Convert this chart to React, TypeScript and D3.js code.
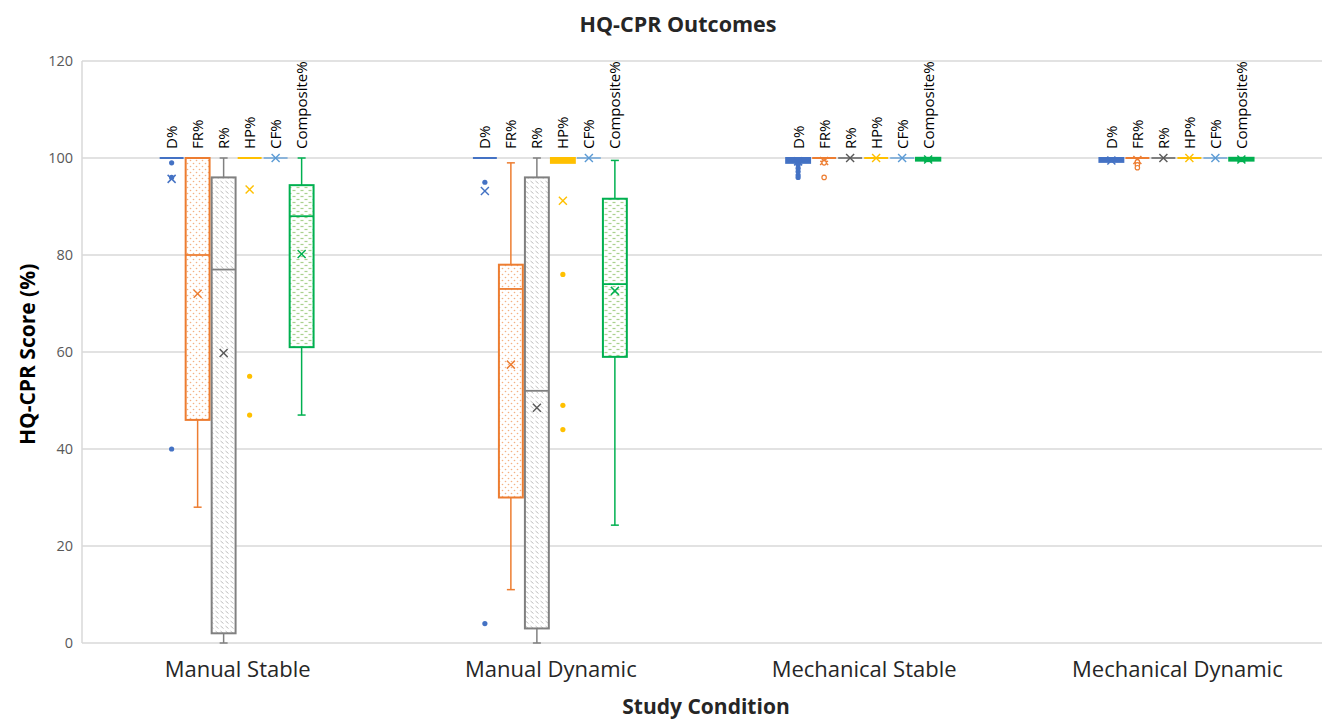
import React from 'react'
import * as d3 from 'd3'

const conditions = ['Manual Stable', 'Manual Dynamic', 'Mechanical Stable', 'Mechanical Dynamic']
const seriesNames = ['D%', 'FR%', 'R%', 'HP%', 'CF%', 'Composite%']
const seriesColors = ['#4472C4', '#ED7D31', '#808080', '#FFC000', '#5B9BD5', '#00B050']
const yTicks = [0, 20, 40, 60, 80, 100, 120]

// [lower whisker, q1, median, q3, upper whisker] per condition
const dBox = [[100, 100, 100, 100, 100], [100, 100, 100, 100, 100], [99, 99, 99.6, 100, 100], [99.2, 99.2, 99.7, 100, 100]]
const dMean = [95.7, 93.2, 99.3, 99.5]
const dOut = [[99, 96, 40], [95, 4], [98.6, 97.9, 97.2, 96.5, 96], []]

const frBox = [[28, 46, 80, 100, 100], [11, 30, 73, 78, 99], [99.3, 100, 100, 100, 100], [100, 100, 100, 100, 100]]
const frMean = [72, 57.4, 99.4, 99.6]
const frOut = [[], [], [99, 96], [99.2, 98.6, 98]]

const rBox = [[0, 2, 77, 96, 100], [0, 3, 52, 96, 100], [100, 100, 100, 100, 100], [100, 100, 100, 100, 100]]
const rMean = [59.8, 48.5, 100, 100]
const rOut = [[], [], [], []]

const hpBox = [[100, 100, 100, 100, 100], [99, 99, 100, 100, 100], [100, 100, 100, 100, 100], [100, 100, 100, 100, 100]]
const hpMean = [93.5, 91.2, 100, 100]
const hpOut = [[55, 47], [76, 49, 44], [], []]

const cfBox = [[100, 100, 100, 100, 100], [100, 100, 100, 100, 100], [100, 100, 100, 100, 100], [100, 100, 100, 100, 100]]
const cfMean = [100, 100, 100, 100]
const cfOut = [[], [], [], []]

const compBox = [[47, 61, 88, 94.4, 100], [24.3, 59, 74, 91.6, 99.5], [99.3, 99.5, 100, 100, 100], [99.3, 99.5, 100, 100, 100]]
const compMean = [80.2, 72.6, 99.7, 99.7]
const compOut = [[], [], [], []]

const boxes = [dBox, frBox, rBox, hpBox, cfBox, compBox]
const means = [dMean, frMean, rMean, hpMean, cfMean, compMean]
const outliers = [dOut, frOut, rOut, hpOut, cfOut, compOut]
const fills = ['#4472C4', 'url(#dots)', 'url(#hatch)', '#FFC000', '#5B9BD5', 'url(#dashes)']

const W = 1322
const H = 721
const font = '"Open Sans", Lato, sans-serif'

export default function App() {
  const y = d3.scaleLinear().domain([0, 120]).range([643, 61])
  const x = d3.scaleBand().domain(conditions).range([80, 1333])
  const inner = d3.scaleBand().domain(seriesNames).range([-78, 78])
  const bw = inner.bandwidth() * 0.92

  return (
    <svg width={W} height={H} style={{ position: 'absolute', left: 0, top: 0, background: '#fff' }} fontFamily={font}>
      <defs>
        <pattern id="dots" width="6" height="6" patternUnits="userSpaceOnUse">
          <rect width="6" height="6" fill="#fff" />
          <circle cx="1.5" cy="1.5" r="0.8" fill="#F4B183" />
          <circle cx="4.5" cy="4.5" r="0.8" fill="#F4B183" />
        </pattern>
        <pattern id="hatch" width="5" height="5" patternUnits="userSpaceOnUse">
          <rect width="5" height="5" fill="#fff" />
          <line x1="0.5" y1="1" x2="3.5" y2="3.5" stroke="#BFBFBF" strokeWidth="1" />
        </pattern>
        <pattern id="dashes" width="8" height="6" patternUnits="userSpaceOnUse">
          <rect width="8" height="6" fill="#fff" />
          <line x1="0.5" y1="1.5" x2="3.5" y2="1.5" stroke="#A9D18E" strokeWidth="1.2" />
          <line x1="4.5" y1="4.5" x2="7.5" y2="4.5" stroke="#A9D18E" strokeWidth="1.2" />
        </pattern>
      </defs>

      <text x={678} y={32} textAnchor="middle" fontSize={21.5} fontWeight="bold" fill="#262626">HQ-CPR Outcomes</text>

      {yTicks.map((t) => (
        <g key={t}>
          <line x1={82} x2={W} y1={y(t)} y2={y(t)} stroke="#D9D9D9" strokeWidth={1.5} />
          <text x={73} y={y(t)} dy="0.35em" textAnchor="end" fontSize={14.5} fill="#595959">{t}</text>
        </g>
      ))}
      <line x1={82} x2={82} y1={y(120)} y2={y(0)} stroke="#D9D9D9" strokeWidth={1.5} />

      <text transform={`translate(35,${y(59.5)}) rotate(-90)`} textAnchor="middle" fontSize={21} fontWeight="bold" fill="#000">HQ-CPR Score (%)</text>

      {conditions.map((c, ci) => {
        const cx = (x(c) ?? 0) + x.bandwidth() / 2
        return (
          <g key={c}>
            <text x={cx + 1} y={677} textAnchor="middle" fontSize={22} fill="#262626">{c}</text>
            {seriesNames.map((s, si) => {
              const col = seriesColors[si]
              const sx = cx + (inner(s) ?? 0) + inner.bandwidth() / 2
              const [lo, q1, med, q3, hi] = boxes[si][ci]
              const mean = means[si][ci]
              const sw = si === 4 ? 1.3 : 2
              const flat = q3 - q1 < 0.6
              return (
                <g key={s}>
                  <text transform={`translate(${sx + 5.5},${y(100) - 9}) rotate(-90)`} fontSize={15} fill="#000">{s}</text>
                  {hi > q3 && (
                    <g stroke={col} strokeWidth={1.5}>
                      <line x1={sx} x2={sx} y1={y(hi)} y2={y(q3)} />
                      <line x1={sx - 4} x2={sx + 4} y1={y(hi)} y2={y(hi)} />
                    </g>
                  )}
                  {lo < q1 && (
                    <g stroke={col} strokeWidth={1.5}>
                      <line x1={sx} x2={sx} y1={y(q1)} y2={y(lo)} />
                      <line x1={sx - 4} x2={sx + 4} y1={y(lo)} y2={y(lo)} />
                    </g>
                  )}
                  <rect
                    x={sx - bw / 2}
                    y={y(q3)}
                    width={bw}
                    height={Math.max(0, y(q1) - y(q3))}
                    fill={fills[si]}
                    stroke={col}
                    strokeWidth={flat ? sw * 1.2 : sw}
                  />
                  <line x1={sx - bw / 2} x2={sx + bw / 2} y1={y(med)} y2={y(med)} stroke={col} strokeWidth={flat ? sw : 1.8} />
                  <g stroke={si === 2 ? '#595959' : col} strokeWidth={1.5}>
                    <line x1={sx - 4} x2={sx + 4} y1={y(mean) - 4} y2={y(mean) + 4} />
                    <line x1={sx - 4} x2={sx + 4} y1={y(mean) + 4} y2={y(mean) - 4} />
                  </g>
                  {outliers[si][ci].map((o, oi) =>
                    si === 1 ? (
                      <circle key={oi} cx={sx} cy={y(o)} r={2.2} fill="#fff" stroke={col} strokeWidth={1.2} />
                    ) : (
                      <circle key={oi} cx={sx} cy={y(o)} r={2.6} fill={col} />
                    )
                  )}
                </g>
              )
            })}
          </g>
        )
      })}

      <text x={706} y={714} textAnchor="middle" fontSize={21} fontWeight="bold" fill="#262626">Study Condition</text>
    </svg>
  )
}
